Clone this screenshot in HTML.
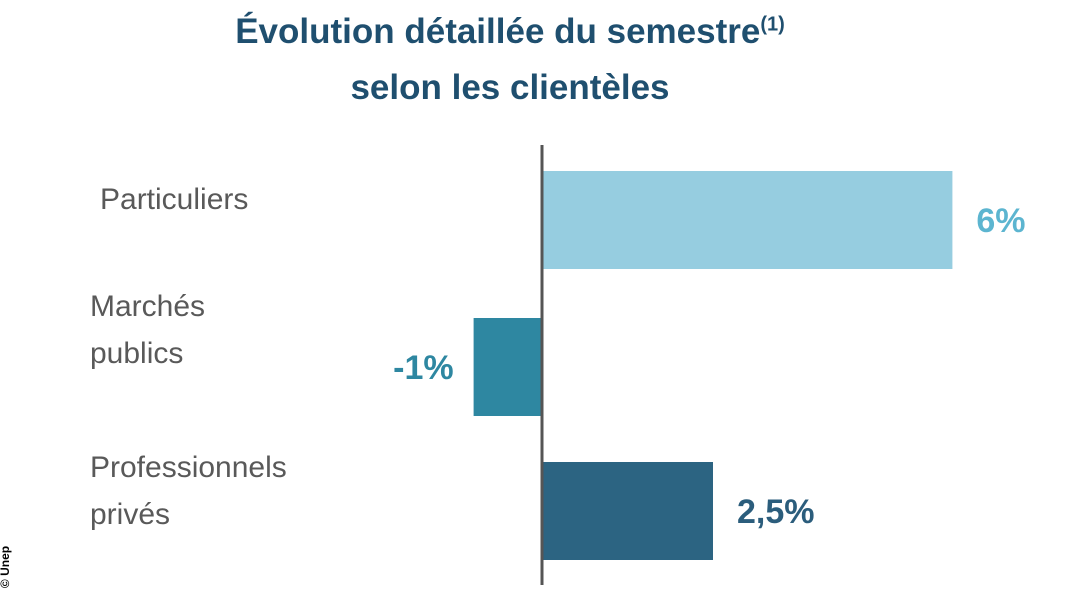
<!DOCTYPE html>
<html><head><meta charset="utf-8"><style>
body{margin:0;width:1066px;height:600px;background:#fff;overflow:hidden;font-family:"Liberation Sans",sans-serif;position:relative}
.t{position:absolute;left:0;width:1020px;text-align:center;color:#1f4f6f;font-weight:bold;font-size:35px}
.cat{position:absolute;color:#595959;font-size:30px;line-height:47px}
.copy{position:absolute;left:-16px;top:560px;transform:rotate(-90deg);font-size:12px;font-weight:bold;color:#000}
</style></head><body>
<div class="t" style="top:12px">Évolution détaillée du semestre<sup style="font-size:20px">(1)</sup></div>
<div class="t" style="top:68px">selon les clientèles</div>
<div class="cat" style="left:100px;top:176px">Particuliers</div>
<div class="cat" style="left:90px;top:283px">Marchés<br>publics</div>
<div class="cat" style="left:90px;top:444px">Professionnels<br>privés</div>
<div class="copy">© Unep</div>
<svg id="chart" width="1066" height="600" style="position:absolute;left:0;top:0"></svg>
<script>
const categories=["Particuliers","Marchés publics","Professionnels privés"];
const values=[6,-1,2.5];
const valueLabels=["6%","-1%","2,5%"];
const barColors=["#96cde0","#2e87a1","#2c6482"];
const labelColors=["#5cb5d0","#2e87a1","#2b5d7c"];
const svg=document.getElementById('chart');const NS="http://www.w3.org/2000/svg";
const x0=542,k=68.4;const xs=v=>x0+v*k;
const tops=[171,318,462],bh=98;
values.forEach((v,i)=>{
 const r=document.createElementNS(NS,'rect');
 
 
 r.setAttribute('x',Math.min(xs(0),xs(v)));r.setAttribute('y',tops[i]);
 r.setAttribute('width',Math.abs(xs(v)-xs(0)));r.setAttribute('height',bh);
 r.setAttribute('fill',barColors[i]);svg.appendChild(r);
 const t=document.createElementNS(NS,'text');
 
 
 t.setAttribute('x',v>=0?xs(v)+24:xs(v)-20);t.setAttribute('y',tops[i]+bh/2+12);
 t.setAttribute('text-anchor',v>=0?'start':'end');
 t.setAttribute('font-size','34');t.setAttribute('font-weight','bold');
 t.setAttribute('font-family','Liberation Sans, sans-serif');
 t.setAttribute('fill',labelColors[i]);t.textContent=valueLabels[i];svg.appendChild(t);
});
const ax=document.createElementNS(NS,'line');


ax.setAttribute('x1',x0);ax.setAttribute('x2',x0);ax.setAttribute('y1',145);ax.setAttribute('y2',585);
ax.setAttribute('stroke','#555');ax.setAttribute('stroke-width','3');svg.appendChild(ax);
</script>
</body></html>
